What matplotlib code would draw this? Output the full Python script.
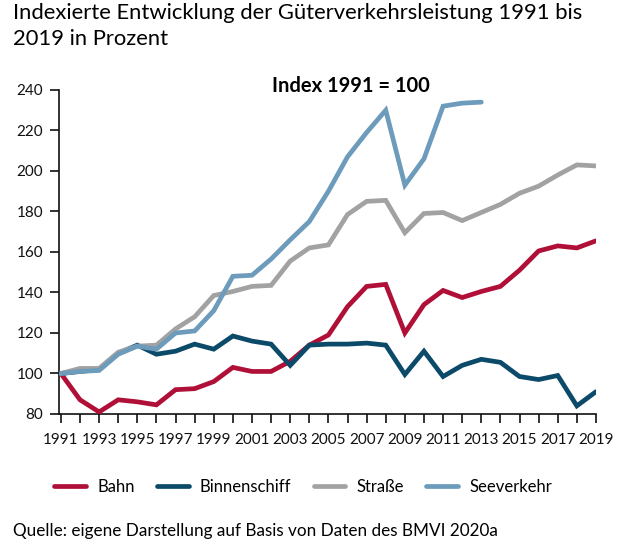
import numpy as np
import matplotlib.pyplot as plt

plt.rcParams["font.family"] = ["Lato", "DejaVu Sans"]

YEARS = list(range(1991, 2020))
BAHN = [100, 87, 81, 87, 86, 84.5, 92, 92.5, 96, 103, 101, 101, 106, 114, 119,
        133, 143, 144, 120, 134, 141, 137.5, 140.5, 143, 151, 160.5, 163, 162, 165.5]
BINNEN = [100, 101, 102, 110, 114, 109.5, 111, 114.5, 112, 118.5, 116, 114.5, 104, 114, 114.5,
          114.5, 115, 114, 99.5, 111, 98.5, 104, 107, 105.5, 98.5, 97, 99, 84, 91]
STRASSE = [100, 102.5, 102.5, 110.5, 113.5, 114, 122, 128, 138.5, 140.5, 143, 143.5, 155.5, 162, 163.5,
           178.5, 185, 185.5, 169.5, 179, 179.5, 175.5, 179.5, 183.5, 189, 192.5, 198, 203, 202.5]
SEE = [100, 101, 101.5, 109.5, 113.5, 112, 120, 121, 131, 148, 148.5, 156.5, 166, 175, 190,
       207, 219, 230, 193, 206, 232, 233.5, 234]
SERIES = [("Bahn", BAHN, "#b01038"), ("Binnenschiff", BINNEN, "#0c4a6a"),
          ("Straße", STRASSE, "#a2a2a2"), ("Seeverkehr", SEE, "#6d9bbb")]
YTICKS = list(range(80, 241, 20))
XLABELS = list(range(1991, 2020, 2))

fig = plt.figure(figsize=(6.26, 5.46), dpi=100)
ax = fig.add_axes([0.0942, 0.2418, 0.8578, 0.5934])

lines = []
for i, (name, vals, color) in enumerate(SERIES):
    ln, = ax.plot(YEARS[:len(vals)], vals, color=color, lw=3.4, solid_capstyle="round",
                  solid_joinstyle="miter", label=name, zorder=3 + i)
    lines.append(ln)

ax.set_xlim(1990.9, 2019)
ax.set_ylim(80, 240)
ax.set_yticks(YTICKS)
ax.set_xticks(YEARS, minor=True)
ax.set_xticks(XLABELS)
ax.tick_params(axis="both", which="both", direction="out", labelsize=11, colors="#111111",
               labelcolor="#111111", width=1.2, length=6.5)
ax.tick_params(axis="y", pad=5)
ax.tick_params(axis="x", which="both", pad=7)
for s in ["top", "right"]:
    ax.spines[s].set_visible(False)
for s in ["left", "bottom"]:
    ax.spines[s].set_linewidth(1.2)
    ax.spines[s].set_color("#111111")

ax.text(0.544, 0.995, "Index 1991 = 100", transform=ax.transAxes, ha="center", va="baseline",
        fontsize=14.5, fontweight="bold")

fig.text(0.021, 0.995, "Indexierte Entwicklung der Güterverkehrsleistung 1991 bis\n2019 in Prozent",
         ha="left", va="top", fontsize=15.8, linespacing=1.4)

fig.legend(handles=lines, loc="center left", bbox_to_anchor=(0.087, 0.108), ncol=4, frameon=False,
           fontsize=12, handlelength=1.9, handletextpad=0.66, columnspacing=1.35, borderpad=0,
           borderaxespad=0)

fig.text(0.021, 0.012, "Quelle: eigene Darstellung auf Basis von Daten des BMVI 2020a",
         ha="left", va="bottom", fontsize=12.3)

fig.savefig("out.png", dpi=100)
